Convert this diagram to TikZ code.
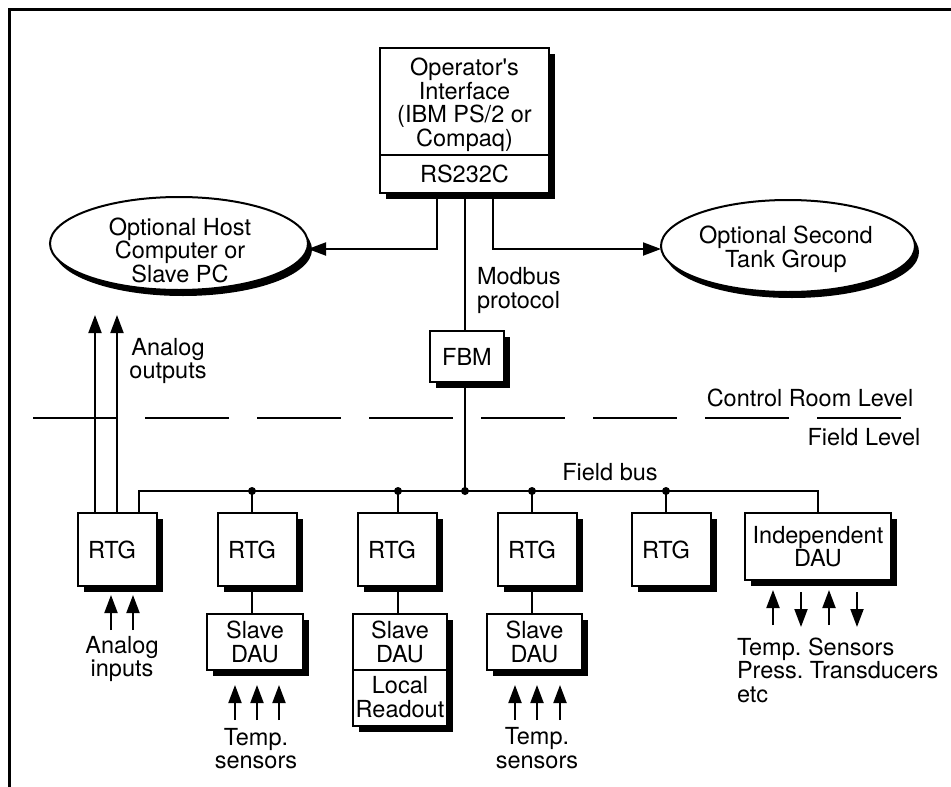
\documentclass[tikz,border=0pt]{standalone}
\usepackage{fontspec}
\setmainfont{TeX Gyre Heros}
\frenchspacing
\usetikzlibrary{arrows.meta,shadows,shapes.geometric}
\begin{document}
\begin{tikzpicture}[x=1pt,y=-1pt,
  every node/.style={font=\fontsize{23.5pt}{23.5pt}\selectfont\frenchspacing, inner sep=0pt, outer sep=0pt},
  line/.style={line width=2pt},
  arr/.style={line width=2pt,-{Triangle[length=18pt,width=13pt]}},
  shbox/.style={draw, line width=2pt, fill=white, rectangle, align=center,
    drop shadow={shadow xshift=6pt,shadow yshift=-6pt,opacity=1,fill=black}},
  shell/.style={draw, line width=2pt, fill=white, ellipse,
    drop shadow={shadow xshift=4pt,shadow yshift=-6pt,opacity=1,fill=black}},
  txt/.style={align=center},
  jdot/.style={circle, fill=black, minimum size=8pt}
]
\useasboundingbox (0,0) rectangle (951,787);
\coordinate (fa) at (9,787); \coordinate (fb0) at (9,9); \coordinate (fc) at (951,9);
\draw[line width=3pt] (fa) -- (fb0) -- (fc);

% operator's interface
\node[shbox, minimum width=169pt, minimum height=145pt] (op) at (464.5,120.5) {};
\coordinate (divy) at (0,155);
\draw[line] (op.west |- divy) -- (op.east |- divy);
\node[txt] (optxt) at (464.5,105) {Operator\textquotesingle s\\Interface\\(IBM PS/2 or\\Compaq)};
\node (rs) at (464.5,174) {RS232C};

% ellipses
\node[shell, minimum width=258pt, minimum height=93pt] (host) at (179,243.5) {};
\node[txt] (hosttxt) at (180,250) {Optional Host\\Computer or\\Slave PC};
\node[shell, minimum width=254pt, minimum height=92pt] (tank) at (788,246) {};
\node[txt] (tanktxt) at (786,249.5) {Optional Second\\Tank Group};

\coordinate (cl) at (437,249); \coordinate (cr) at (493,249);
\draw[arr] (op.south -| cl) -- (cl) -- (host.east |- cl);
\draw[arr] (op.south -| cr) -- (cr) -- (tank.west |- cr);

% FBM
\node[shbox, minimum width=74pt, minimum height=51pt] (fbm) at (467,356.5) {FBM};
\coordinate (jm) at (465,491);
\draw[line] (op.south -| jm) -- (fbm.north -| jm);
\draw[line] (fbm.south -| jm) -- (jm);
\node[align=left, anchor=west] (modbus) at (477,290.5) {Modbus\\protocol};

% level separator
\coordinate (dl) at (33,418); \coordinate (dr) at (901,418);
\draw[line width=2pt, dash pattern=on 84pt off 28pt] (dl) -- (dr);
\node (crl) at (810,398) {Control Room Level};
\node (fl) at (864,437) {Field Level};

% RTGs
\node[shbox, minimum width=79pt, minimum height=73pt] (r1) at (117.5,549.5) {\hspace*{-11pt}RTG};
\node[shbox, minimum width=79pt, minimum height=73pt] (r2) at (257.5,549.5) {\hspace*{-11pt}RTG};
\node[shbox, minimum width=79pt, minimum height=73pt] (r3) at (397.5,549.5) {\hspace*{-11pt}RTG};
\node[shbox, minimum width=79pt, minimum height=73pt] (r4) at (537.5,549.5) {\hspace*{-11pt}RTG};
\node[shbox, minimum width=79pt, minimum height=73pt] (r5) at (671.5,549.5) {\hspace*{-11pt}RTG};
\node[shbox, minimum width=146pt, minimum height=67pt] (ind) at (818,546.5) {Independent\\DAU};

% field bus
\coordinate (bl) at (139,491); \coordinate (br) at (818,491);
\coordinate (j2) at (252,491); \coordinate (j3) at (398,491);
\coordinate (j4) at (532,491); \coordinate (j5) at (666,491);
\draw[line] (r1.north -| bl) -- (bl) -- (br) -- (ind.north -| br);
\draw[line] (j2) -- (r2.north -| j2);
\draw[line] (j3) -- (r3.north -| j3);
\draw[line] (j4) -- (r4.north -| j4);
\draw[line] (j5) -- (r5.north -| j5);
\node[jdot] (d2) at (j2) {};
\node[jdot] (d3) at (j3) {};
\node[jdot] (dm) at (jm) {};
\node[jdot] (d4) at (j4) {};
\node[jdot] (d5) at (j5) {};
\node (fbus) at (610,472) {Field bus};

% slave DAUs
\node[shbox, minimum width=96pt, minimum height=56pt] (s1) at (255,642) {Slave\\DAU};
\draw[line] (r2.south -| j2) -- (s1.north -| j2);
\node[shbox, minimum width=94pt, minimum height=112pt] (s2) at (400,670) {};
\draw[line] (s2.west) -- (s2.east);
\node[txt] (s2a) at (400,642) {Slave\\DAU};
\node[txt] (s2b) at (400,697) {Local\\Readout};
\draw[line] (r3.south -| j3) -- (s2.north -| j3);
\node[shbox, minimum width=95pt, minimum height=56pt] (s3) at (534.5,642) {Slave\\DAU};
\draw[line] (r4.south -| j4) -- (s3.north -| j4);

% analog outputs
\coordinate (ao1) at (95,315); \coordinate (ao2) at (117,315);
\draw[arr] (r1.north -| ao1) -- (ao1);
\draw[arr] (r1.north -| ao2) -- (ao2);
\node[txt] (aotxt) at (168,361) {Analog\\outputs};

% analog inputs
\foreach \dx in {-6.5,15.5}
  \draw[arr] ([xshift=\dx pt,yshift=-44pt]r1.south) -- ([xshift=\dx pt,yshift=-9pt]r1.south);
\node[txt] (aitxt) at (122,659) {Analog\\inputs};

% temp sensors
\foreach \dx in {-20,2,24}
  \draw[arr] ([xshift=\dx pt,yshift=-50pt]s1.south) -- ([xshift=\dx pt,yshift=-15pt]s1.south);
\node[txt] (t1) at (256,748.5) {Temp.\\sensors};
\foreach \dx in {-19.5,2.5,25.5}
  \draw[arr] ([xshift=\dx pt,yshift=-50pt]s3.south) -- ([xshift=\dx pt,yshift=-15pt]s3.south);
\node[txt] (t2) at (537,748) {Temp.\\sensors};

% independent DAU io
\foreach \dx in {-45,11}
  \draw[arr] ([xshift=\dx pt,yshift=-45pt]ind.south) -- ([xshift=\dx pt,yshift=-10pt]ind.south);
\foreach \dx in {-17,39}
  \draw[arr] ([xshift=\dx pt,yshift=-12pt]ind.south) -- ([xshift=\dx pt,yshift=-47pt]ind.south);
\node[align=left, anchor=west] (t3) at (737,670) {Temp. Sensors\\Press. Transducers\\etc};
\end{tikzpicture}
\end{document}
